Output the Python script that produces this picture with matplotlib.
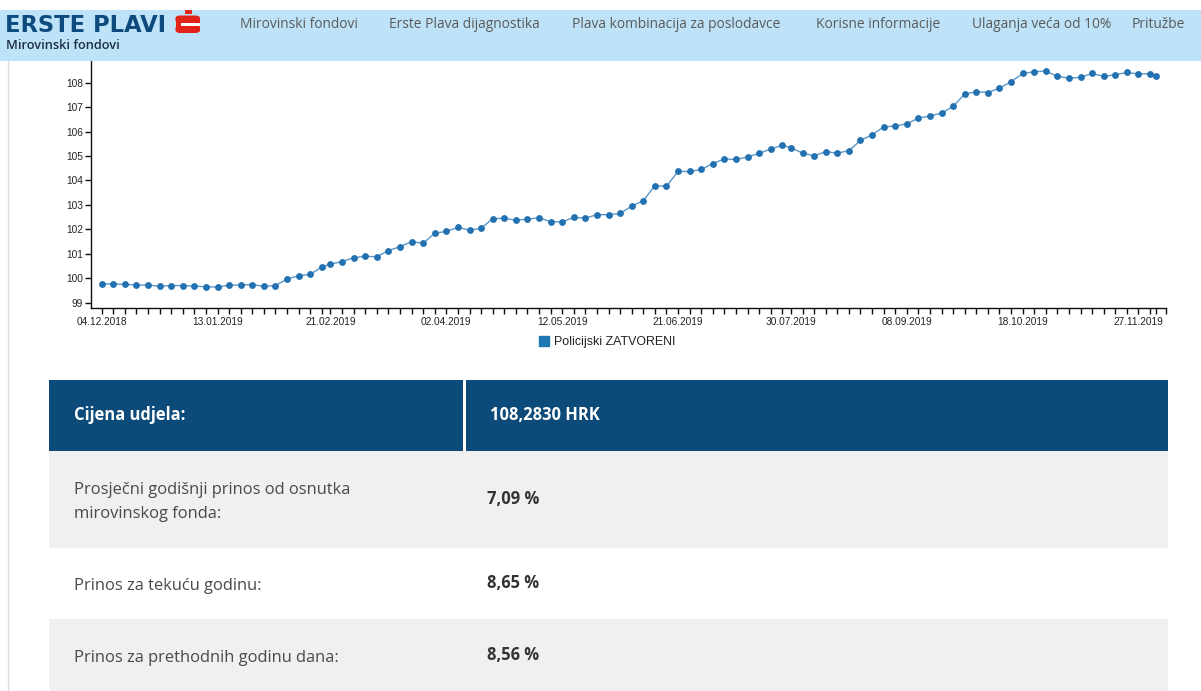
import matplotlib
matplotlib.use("Agg")
import matplotlib.pyplot as plt
from matplotlib.patches import Rectangle, FancyBboxPatch
from matplotlib.lines import Line2D
import pandas as pd

# ---------------- data ----------------
series_name = "Policijski ZATVORENI"

dates = [
    "04.12.2018", "08.12.2018", "12.12.2018", "16.12.2018", "20.12.2018", "24.12.2018", "28.12.2018",
    "01.01.2019", "05.01.2019", "09.01.2019", "13.01.2019", "17.01.2019", "21.01.2019", "25.01.2019", "29.01.2019",
    "02.02.2019", "06.02.2019", "10.02.2019", "14.02.2019", "18.02.2019", "21.02.2019", "25.02.2019",
    "01.03.2019", "05.03.2019", "09.03.2019", "13.03.2019", "17.03.2019", "21.03.2019", "25.03.2019", "29.03.2019",
    "02.04.2019", "06.04.2019", "10.04.2019", "14.04.2019", "18.04.2019", "22.04.2019", "26.04.2019", "30.04.2019",
    "04.05.2019", "08.05.2019", "12.05.2019", "16.05.2019", "20.05.2019", "24.05.2019", "28.05.2019",
    "01.06.2019", "05.06.2019", "09.06.2019", "13.06.2019", "17.06.2019", "21.06.2019", "25.06.2019", "29.06.2019",
    "03.07.2019", "07.07.2019", "11.07.2019", "15.07.2019", "19.07.2019", "23.07.2019", "27.07.2019", "30.07.2019",
    "03.08.2019", "07.08.2019", "11.08.2019", "15.08.2019", "19.08.2019", "23.08.2019", "27.08.2019", "31.08.2019",
    "04.09.2019", "08.09.2019", "12.09.2019", "16.09.2019", "20.09.2019", "24.09.2019", "28.09.2019",
    "02.10.2019", "06.10.2019", "10.10.2019", "14.10.2019", "18.10.2019", "22.10.2019", "26.10.2019", "30.10.2019",
    "03.11.2019", "07.11.2019", "11.11.2019", "15.11.2019", "19.11.2019", "23.11.2019", "27.11.2019",
    "01.12.2019", "03.12.2019",
]

values = [
    99.78, 99.76, 99.75, 99.72, 99.72, 99.67, 99.70, 99.70, 99.68, 99.65,
    99.64, 99.72, 99.72, 99.74, 99.67, 99.70, 99.97, 100.10, 100.16, 100.46,
    100.58, 100.68, 100.84, 100.90, 100.88, 101.13, 101.29, 101.50, 101.43, 101.84,
    101.92, 102.08, 101.97, 102.04, 102.44, 102.45, 102.38, 102.41, 102.48, 102.31,
    102.31, 102.49, 102.46, 102.60, 102.60, 102.65, 102.95, 103.17, 103.79, 103.76,
    104.37, 104.37, 104.45, 104.69, 104.88, 104.86, 104.96, 105.11, 105.29, 105.44,
    105.34, 105.12, 105.01, 105.18, 105.12, 105.22, 105.64, 105.87, 106.19, 106.23,
    106.32, 106.55, 106.64, 106.76, 107.03, 107.54, 107.63, 107.60, 107.78, 108.04,
    108.38, 108.45, 108.48, 108.26, 108.19, 108.22, 108.38, 108.26, 108.33, 108.42,
    108.36, 108.37, 108.28,
]

x_tick_labels = ["04.12.2018", "13.01.2019", "21.02.2019", "02.04.2019", "12.05.2019",
                 "21.06.2019", "30.07.2019", "08.09.2019", "18.10.2019", "27.11.2019"]
y_ticks = [99, 100, 101, 102, 103, 104, 105, 106, 107, 108]

brand_title = "ERSTE PLAVI"
brand_subtitle = "Mirovinski fondovi"
nav_items = ["Mirovinski fondovi", "Erste Plava dijagnostika", "Plava kombinacija za poslodavce",
             "Korisne informacije", "Ulaganja veća od 10%", "Pritužbe"]

table_labels = ["Cijena udjela:",
                "Prosječni godišnji prinos od osnutka\nmirovinskog fonda:",
                "Prinos za tekuću godinu:",
                "Prinos za prethodnih godinu dana:"]
table_values = ["108,2830 HRK", "7,09 %", "8,65 %", "8,56 %"]

# ---------------- layout helpers ----------------
W, H = 1201, 691
fig = plt.figure(figsize=(W / 100, H / 100), dpi=100)
fig.patch.set_facecolor("white")


def fx(x):
    return x / W


def fy(y):
    return 1 - y / H


def rect(x0, y0, x1, y1, color, z=1):
    r = Rectangle((fx(x0), fy(y1)), fx(x1) - fx(x0), fy(y0) - fy(y1),
                  transform=fig.transFigure, facecolor=color, edgecolor="none", zorder=z)
    fig.add_artist(r)
    return r


CHART_FONT = "Liberation Sans"
PAGE_FONT = "Open Sans"

# ---------------- chart ----------------
x = pd.to_datetime(dates, format="%d.%m.%Y")
major = pd.to_datetime(x_tick_labels, format="%d.%m.%Y")

ax_left, ax_right, ax_top, ax_bottom = 90.7, 1166, 61, 308.3
ax = fig.add_axes([fx(ax_left), fy(ax_bottom), fx(ax_right) - fx(ax_left), fy(ax_top) - fy(ax_bottom)])
ax.set_facecolor("none")

ax.plot(x, values, color="#5b97c9", lw=1.0, zorder=2)
ax.plot(x, values, ls="none", marker="o", ms=3.9, color="#2371b0", mec="#2371b0", zorder=3)

x0 = x[0] - pd.Timedelta(days=3.8)
x1 = x[0] + pd.Timedelta(days=367.5)
ax.set_xlim(x0, x1)
ax.set_ylim(98.77, 108.89)

for s in ["top", "right"]:
    ax.spines[s].set_visible(False)
for s in ["left", "bottom"]:
    ax.spines[s].set_color("#111111")
    ax.spines[s].set_linewidth(1.0)

ax.set_yticks(y_ticks)
ax.set_yticklabels([str(v) for v in y_ticks])
ax.set_xticks(major)
ax.set_xticklabels(x_tick_labels)
ax.set_xticks(list(x) + [x1], minor=True)

ax.tick_params(axis="both", which="both", direction="out", length=4.3, width=1.0,
               color="#111111", labelcolor="#222222", labelsize=7.3)
ax.tick_params(axis="y", pad=1.2)
ax.tick_params(axis="x", which="both", pad=2.0)
for lab in ax.get_xticklabels() + ax.get_yticklabels():
    lab.set_fontfamily(CHART_FONT)

# legend
handle = Line2D([], [], ls="none", marker="s", ms=7.2, color="#1f77b4")
fig.legend([handle], [series_name], loc="center", bbox_to_anchor=(fx(607), fy(342)),
           frameon=False, handletextpad=0.35, handlelength=0.9, borderpad=0,
           prop={"family": CHART_FONT, "size": 8.9}, labelcolor="#222222")

# ---------------- header ----------------
rect(0, 10, W, 61, "#bee3f8", z=5)
fig.text(fx(5), fy(32.5), brand_title, fontsize=16.3, fontweight="bold",
         family="DejaVu Sans", color="#0d4a7e", va="baseline", ha="left", zorder=6)
fig.text(fx(6), fy(45.5), brand_subtitle, fontsize=9.2, family=PAGE_FONT, fontweight="semibold",
         color="#1c2d40", va="center", ha="left", zorder=6)

# Erste "S" logo shape
red = "#e2231a"
for (yy0, yy1) in [(15.5, 23), (25.5, 33)]:
    p = FancyBboxPatch((fx(175.5), fy(yy1)), fx(200) - fx(175.5), fy(yy0) - fy(yy1),
                       boxstyle="round,pad=0,rounding_size=0.004", transform=fig.transFigure,
                       facecolor=red, edgecolor="none", zorder=6)
    fig.add_artist(p)
rect(175.5, 21, 181, 27, red, z=6)
rect(194.5, 21, 200, 27, red, z=6)
rect(181, 23, 200, 25.5, "#ffffff", z=7)
rect(185, 10, 192, 14, red, z=6)

nav_x = [240, 389, 572, 816, 972, 1132]
for label, nx in zip(nav_items, nav_x):
    fig.text(fx(nx), fy(25), label, fontsize=9.95, family=PAGE_FONT, color="#5a5a5a",
             va="center", ha="left", zorder=6)

# left page border
fig.add_artist(Line2D([fx(7.5), fx(7.5)], [fy(61), fy(H)], transform=fig.transFigure,
                      color="#dedede", lw=1.0, zorder=1))

# ---------------- table ----------------
t_left, t_right, t_sep = 49, 1167.5, 464.5
row_bounds = [(380, 450.5), (450.5, 548), (548, 618.5), (618.5, 692)]
row_colors = ["#0b4a79", "#f0f0f0", "#ffffff", "#f0f0f0"]
for (r0, r1), c in zip(row_bounds, row_colors):
    rect(t_left, r0, t_right, r1, c, z=1)
rect(t_sep - 1.5, 380, t_sep + 1.5, 450.5, "#ffffff", z=2)

FS = 11.9
for i, (lab, val) in enumerate(zip(table_labels, table_values)):
    r0, r1 = row_bounds[i]
    cy = (r0 + r1) / 2
    if i == 3:
        cy = 655
    if i == 0:
        fig.text(fx(74), fy(cy), lab, fontsize=FS, family=PAGE_FONT, fontweight="bold",
                 color="#ffffff", va="center", ha="left", zorder=3)
        fig.text(fx(490), fy(cy), val, fontsize=FS, family=PAGE_FONT, fontweight="bold",
                 color="#ffffff", va="center", ha="left", zorder=3)
    else:
        fig.text(fx(74), fy(cy + 2.5), lab, fontsize=FS, family=PAGE_FONT, color="#4a4a4a",
                 va="center", ha="left", linespacing=1.66, zorder=3)
        fig.text(fx(487), fy(cy), val, fontsize=FS, family=PAGE_FONT, fontweight="bold",
                 color="#333333", va="center", ha="left", zorder=3)

fig.savefig("out.png", dpi=100, facecolor="white")
